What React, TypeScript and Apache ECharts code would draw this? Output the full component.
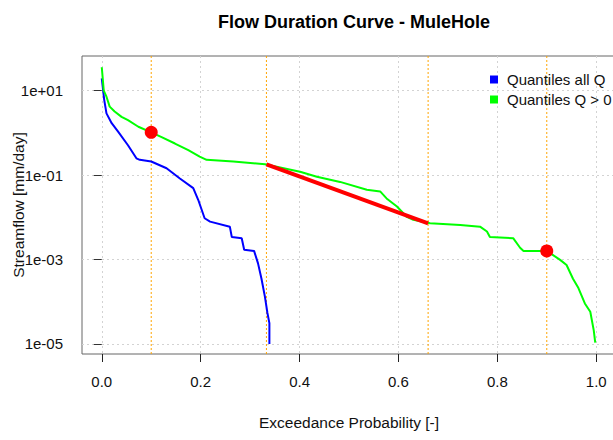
import React, { useEffect, useRef } from "react";
import * as echarts from "echarts";

// Exceedance probability / streamflow [mm/day] — quantiles of all Q
const probAll = [0, 0.005, 0.0095, 0.02, 0.033, 0.053, 0.07, 0.077, 0.1, 0.131, 0.158, 0.185, 0.195, 0.208, 0.219, 0.259, 0.263, 0.283, 0.288, 0.308, 0.316, 0.323, 0.33, 0.335, 0.339, 0.339];
const qAll = [19.5, 6.0, 2.9, 1.7, 1.07, 0.51, 0.25, 0.23, 0.21, 0.145, 0.083, 0.049, 0.026, 0.0095, 0.0079, 0.006, 0.0034, 0.0032, 0.0017, 0.0016, 0.00081, 0.00035, 0.00013, 0.000054, 0.000031, 0.00001];

// Quantiles Q > 0
const probPos = [0, 0.004, 0.0095, 0.016, 0.026, 0.04, 0.053, 0.074, 0.1, 0.121, 0.148, 0.175, 0.198, 0.212, 0.266, 0.33, 0.401, 0.435, 0.482, 0.536, 0.563, 0.576, 0.597, 0.617, 0.63, 0.664, 0.725, 0.765, 0.779, 0.785, 0.832, 0.846, 0.853, 0.9, 0.927, 0.94, 0.953, 0.964, 0.977, 0.988, 0.995, 0.998];
const qPos = [36, 10, 7.2, 4.2, 3.2, 2.4, 2.0, 1.4, 1.03, 0.79, 0.56, 0.39, 0.275, 0.23, 0.21, 0.18, 0.12, 0.091, 0.069, 0.045, 0.041, 0.028, 0.018, 0.0102, 0.0087, 0.0072, 0.0066, 0.006, 0.0046, 0.0034, 0.0032, 0.0019, 0.0016, 0.0016, 0.00098, 0.00074, 0.00035, 0.00021, 0.000091, 0.000058, 0.000021, 0.0000107];

// Mid-segment slope line and Q10 / Q90 points
const slopeProb = [0.333, 0.66];
const slopeQ = [0.18, 0.0072];
const pointProb = [0.1, 0.9];
const pointQ = [1.03, 0.0016];

// Reference vertical lines
const refProb = [0.1, 0.333, 0.66, 0.9];

// Tick values
const xTicks = [0, 0.2, 0.4, 0.6, 0.8, 1.0];
const yTicks = [1e-5, 1e-3, 1e-1, 10];

const Y_MIN = Math.pow(10, -5.239);
const Y_MAX = Math.pow(10, 1.822);

const zip = (xs: number[], ys: number[]) => xs.map((x, i) => [x, ys[i]]);

const fmtExp = (v: number) => {
  const e = Math.round(Math.log10(v));
  return "1e" + (e < 0 ? "-" : "+") + String(Math.abs(e)).padStart(2, "0");
};

export default function App() {
  const ref = useRef<HTMLDivElement>(null);
  useEffect(() => {
    if (!ref.current) return;
    const chart = echarts.init(ref.current, undefined, { renderer: "svg" });
    const font = "Liberation Sans";
    const refSeries = refProb.map((p) => ({
      name: "ref" + p,
      type: "line",
      data: [
        [p, Y_MIN],
        [p, Y_MAX],
      ],
      showSymbol: false,
      symbol: "none",
      silent: true,
      lineStyle: { color: "#ffa500", type: [2, 2], width: 1 },
      z: 1,
    }));
    chart.setOption({
      animation: false,
      textStyle: { fontFamily: font },
      title: {
        text: "Flow Duration Curve - MuleHole",
        left: 349,
        top: 8,
        textAlign: "center",
        textStyle: { fontFamily: font, fontSize: 18, fontWeight: "bold", color: "#000" },
      },
      legend: {
        orient: "vertical",
        left: 485,
        top: 67,
        itemWidth: 8,
        itemHeight: 8,
        itemGap: 5,
        icon: "rect",
        data: ["Quantiles all Q", "Quantiles Q > 0"],
        textStyle: { fontFamily: font, fontSize: 15, color: "#111", padding: [0, 0, 0, 4] },
      },
      grid: {
        left: 82,
        top: 56,
        width: 534,
        height: 298,
        outerBoundsMode: "none",
        containLabel: false,
        show: true,
        borderColor: "#666",
        borderWidth: 1,
        backgroundColor: "transparent",
      },
      xAxis: {
        type: "value",
        min: -0.04,
        max: 1.04,
        name: "Exceedance Probability [-]",
        nameLocation: "middle",
        nameGap: 60,
        nameMoveOverlap: false,
        nameTextStyle: { fontFamily: font, fontSize: 15.5, color: "#111" },
        axisLine: { show: false },
        axisTick: { show: true, length: 8, lineStyle: { color: "#222" }, customValues: xTicks },
        axisLabel: {
          customValues: xTicks,
          margin: 20,
          fontSize: 15,
          color: "#111",
          formatter: (v: number) => v.toFixed(1),
        },
        splitLine: { show: true, lineStyle: { color: "#d3d3d3", type: [2, 3], width: 1 } },
      },
      yAxis: {
        type: "log",
        logBase: 10,
        min: Y_MIN,
        max: Y_MAX,
        name: "Streamflow [mm/day]",
        nameLocation: "middle",
        nameGap: 64,
        nameMoveOverlap: false,
        nameTextStyle: { fontFamily: font, fontSize: 15.5, color: "#111", verticalAlign: "middle" },
        axisLine: { show: false },
        axisTick: { show: true, length: 8, lineStyle: { color: "#333" }, customValues: yTicks },
        axisLabel: {
          customValues: yTicks,
          margin: 19,
          fontSize: 15,
          color: "#111",
          formatter: (v: number) => fmtExp(v),
        },
        splitLine: { show: true, lineStyle: { color: "#d3d3d3", type: [2, 3], width: 1 } },
        minorTick: { show: false },
      },
      series: [
        ...refSeries,
        {
          name: "Quantiles all Q",
          type: "line",
          data: zip(probAll, qAll),
          showSymbol: false,
          symbol: "none",
          color: "#0000ff",
          lineStyle: { color: "#0000ff", width: 2 },
          z: 3,
        },
        {
          name: "Quantiles Q > 0",
          type: "line",
          data: zip(probPos, qPos),
          showSymbol: false,
          symbol: "none",
          color: "#00ff00",
          lineStyle: { color: "#00ff00", width: 2 },
          z: 3,
        },
        {
          name: "slope",
          type: "line",
          data: zip(slopeProb, slopeQ),
          showSymbol: false,
          symbol: "none",
          lineStyle: { color: "#ff0000", width: 4 },
          z: 4,
        },
        {
          name: "points",
          type: "scatter",
          data: zip(pointProb, pointQ),
          symbolSize: 13,
          itemStyle: { color: "#ff0000", opacity: 1 },
          z: 5,
        },
      ],
    });
    return () => chart.dispose();
  }, []);
  return (
    <div
      ref={ref}
      style={{ position: "fixed", left: 0, top: 0, width: 613, height: 440, background: "#fff" }}
    />
  );
}
